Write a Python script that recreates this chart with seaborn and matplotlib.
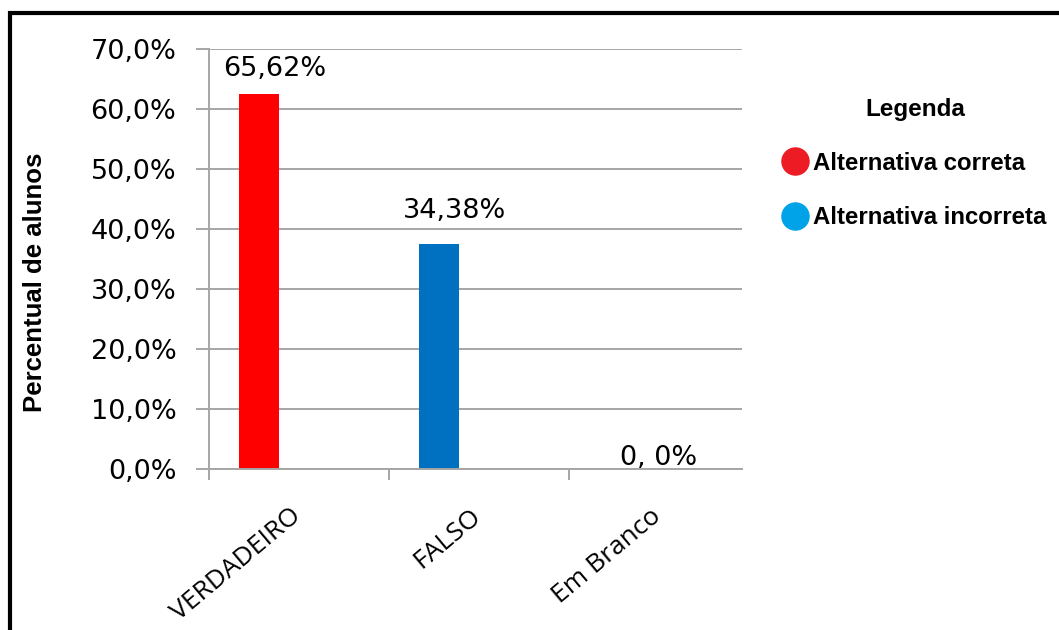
import matplotlib
matplotlib.use("Agg")
import matplotlib.pyplot as plt
import matplotlib.transforms as mtransforms
import seaborn as sns
import pandas as pd
from matplotlib.lines import Line2D
from matplotlib.patches import Rectangle
from matplotlib.ticker import FixedLocator, FuncFormatter

# ---- data ----
categories = ["VERDADEIRO", "FALSO", "Em Branco"]
values = [62.5, 37.5, 0.0]
value_labels = ["65,62%", "34,38%", "0, 0%"]
bar_colors = ["#FF0000", "#0070C0", "#FF0000"]
legend_labels = ["Alternativa correta", "Alternativa incorreta"]
legend_colors = ["#ED1C24", "#00A2E8"]
y_ticks = [0, 10, 20, 30, 40, 50, 60, 70]

sns.set_theme(style="white")
plt.rcParams["font.family"] = ["DejaVu Sans"]
plt.rcParams["text.color"] = "black"

fig = plt.figure(figsize=(10.59, 6.30), dpi=100)
ax = fig.add_axes([209 / 1059, 1 - 469 / 630, (742 - 209) / 1059, (469 - 49) / 630])

df = pd.DataFrame({"cat": categories, "val": values})
sns.barplot(data=df, x="cat", y="val", hue="cat", palette=bar_colors,
            legend=False, width=0.222, ax=ax, saturation=1, linewidth=0)

shift = -0.222
for p in ax.patches:
    p.set_x(p.get_x() + shift)

# data labels
label_dx = [0.085, 0.085, 0.0]
label_dy = [4.1, 5.5, 1.8]
for i, (v, t) in enumerate(zip(values, value_labels)):
    bx = i + (shift if i < 2 else 0) + label_dx[i]
    ax.text(bx, v + label_dy[i], t, ha="center", va="center",
            fontsize=19.5, color="black", family="DejaVu Sans")

ax.set_xlim(-0.5, 2.461)
ax.set_ylim(0, 70)
ax.yaxis.set_major_locator(FixedLocator(y_ticks))
ax.yaxis.set_major_formatter(FuncFormatter(lambda v, p: f"{v:.1f}%".replace(".", ",")))
ax.grid(axis="y", color="#A6A6A6", linewidth=1.4)
ax.set_axisbelow(True)
for s in ["top", "right"]:
    ax.spines[s].set_visible(False)
for s in ["left", "bottom"]:
    ax.spines[s].set_color("#A6A6A6")
    ax.spines[s].set_linewidth(1.4)

ax.tick_params(axis="y", which="major", left=True, length=9.5, width=1.4,
               color="#A6A6A6", pad=14, labelsize=19.5, labelcolor="black")
ax.set_xticks([0, 1, 2])
ax.set_xticklabels(categories, rotation=40, ha="right", rotation_mode="anchor",
                   fontsize=19, family="Open Sans", color="black")
ax.tick_params(axis="x", which="major", bottom=False, length=0, pad=12)
offset = mtransforms.ScaledTranslation(-9 / 100, -18 / 100, fig.dpi_scale_trans)
for lbl in ax.get_xticklabels():
    lbl.set_transform(lbl.get_transform() + offset)
ax.set_xticks([-0.5, 0.5, 1.5], minor=True)
ax.tick_params(axis="x", which="minor", bottom=True, length=8, width=1.4,
               color="#A6A6A6")

ax.set_xlabel("")
ax.set_ylabel("Percentual de alunos", fontsize=18.5, fontweight="bold",
              family="Liberation Sans", color="black")
ax.yaxis.set_label_coords(35 / 1059, 1 - 282 / 630, transform=fig.transFigure)
ax.yaxis.label.set_va("center")

# legend
handles = [Line2D([], [], linestyle="none", marker="o", markersize=19.5,
                  markerfacecolor=c, markeredgecolor=c) for c in legend_colors]
leg = fig.legend(handles, legend_labels, title="Legenda", loc="upper left",
                 bbox_to_anchor=(773.6 / 1059, 1 - 88 / 630), frameon=False,
                 borderaxespad=0, handlelength=1.0, handletextpad=0.26,
                 labelspacing=1.3, labelcolor="black",
                 prop={"family": "Liberation Sans", "weight": "bold", "size": 17.3},
                 title_fontproperties={"family": "Liberation Sans", "weight": "bold", "size": 17.5})
leg.get_title().set_color("black")

# outer frame
fig.patches.append(Rectangle((10 / 1059, -0.2), 1.2, 0.2 + (1 - 13 / 630),
                             transform=fig.transFigure, fill=False,
                             edgecolor="black", linewidth=3, zorder=0))

fig.savefig("out.png", dpi=100)
